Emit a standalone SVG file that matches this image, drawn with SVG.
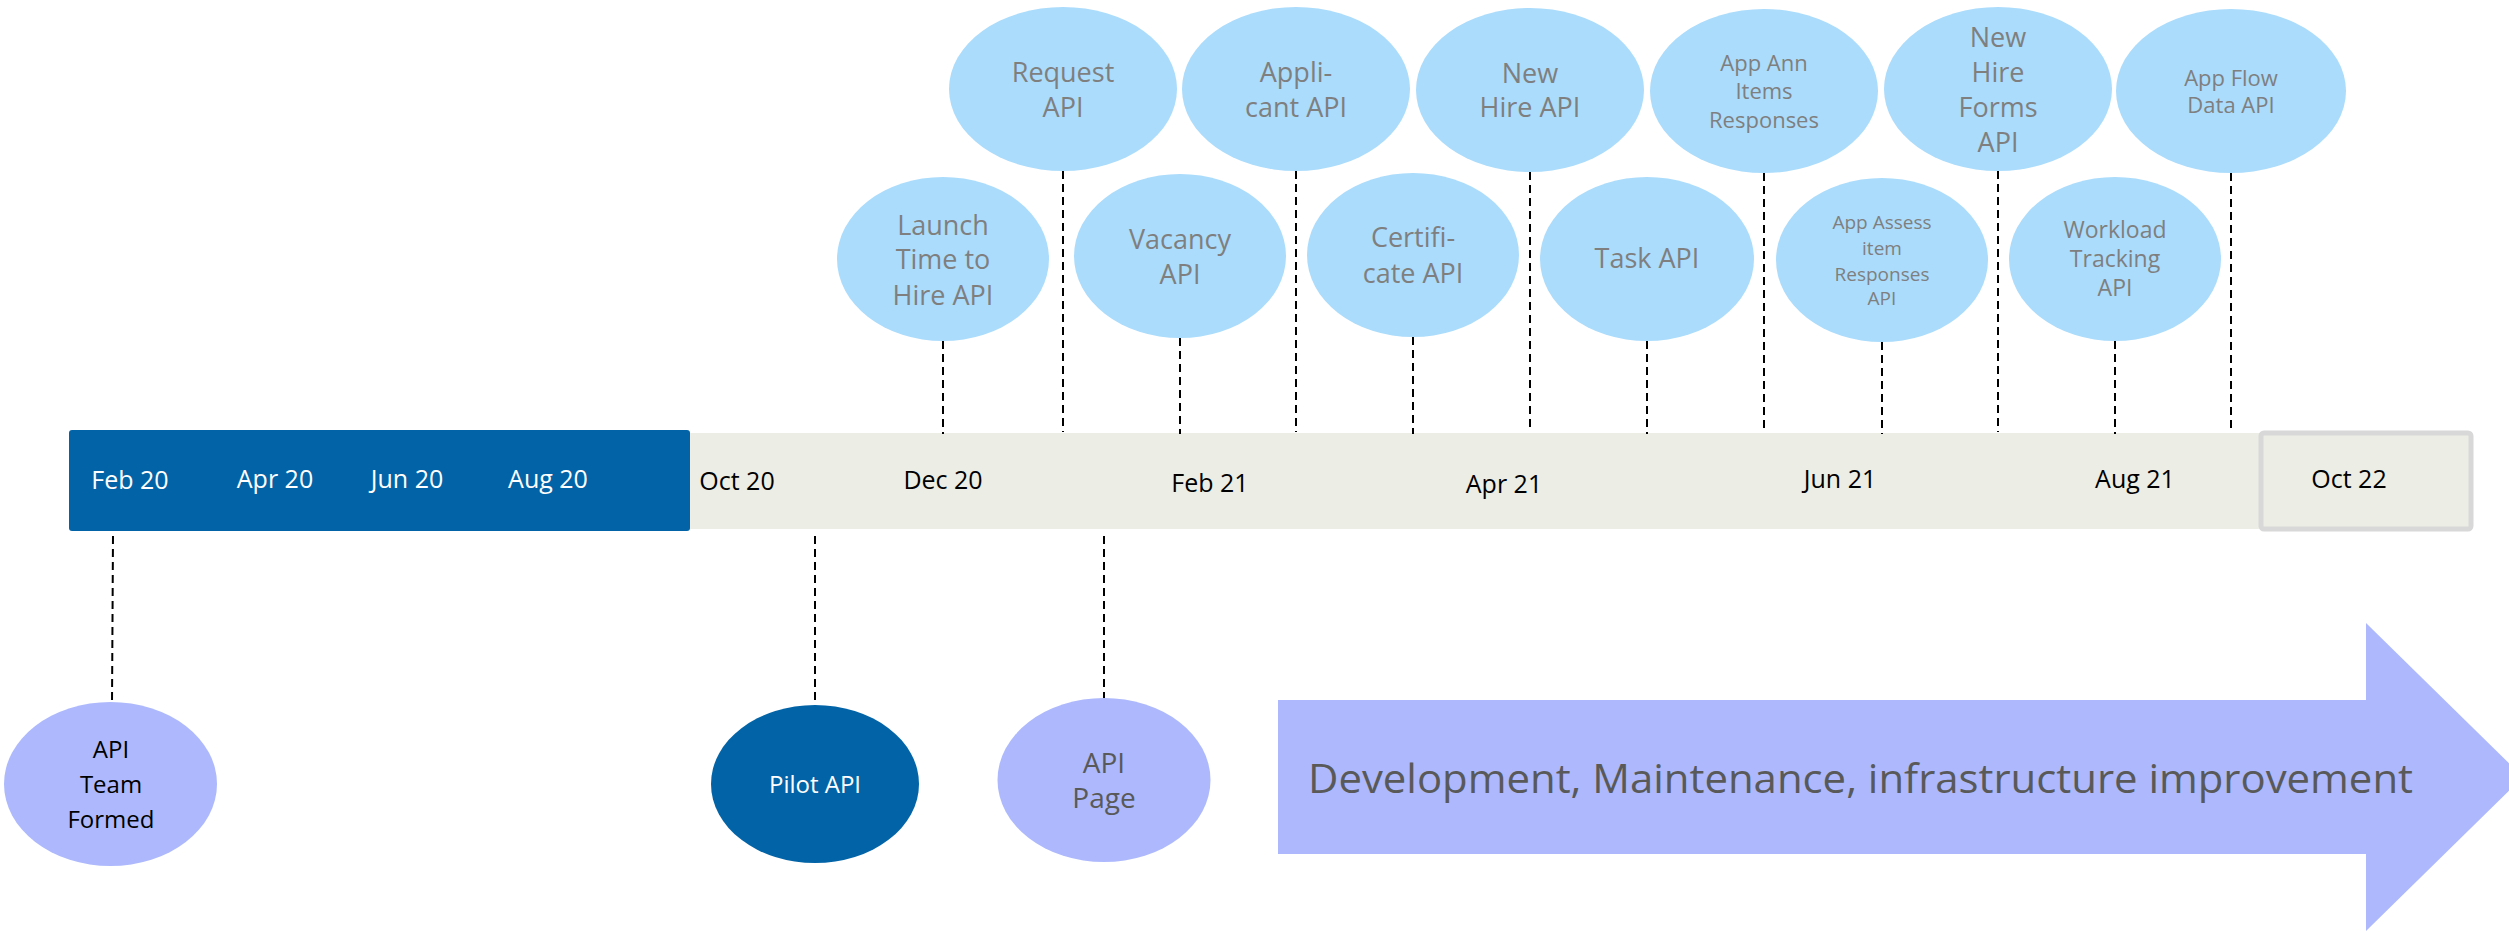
<svg xmlns="http://www.w3.org/2000/svg" width="2509" height="932" viewBox="0 0 2509 932">
<style>
text{font-family:"Open Sans","Noto Sans","DejaVu Sans",sans-serif;text-anchor:middle}
.tl{font-size:25px}
.w{fill:#ffffff}
.k{fill:#000000}
.g{fill:#7f7f7f}
.dg{fill:#595959}
.lb{fill:#abdcfc}
.pw{fill:#adb9fc}
.conn line{stroke:#000;stroke-width:2;stroke-dasharray:8 5}
.f27{font-size:27px}
.f22{font-size:22px}
.f19{font-size:19px}
.f23{font-size:23px}
.f24{font-size:24px}
.f28{font-size:28px}
</style>
<rect width="2509" height="932" fill="#ffffff"/>
<g id="timeline">
<rect x="689" y="433" width="1572" height="96" fill="#ecede5"/>
<rect x="69" y="430" width="621" height="101" rx="3" fill="#0264a7"/>
<rect x="2261" y="433" width="210" height="96" rx="3" fill="#ecede5" stroke="#d8d8d8" stroke-width="5"/>
<text class="tl w" x="130" y="489">Feb 20</text>
<text class="tl w" x="275" y="488">Apr 20</text>
<text class="tl w" x="407" y="488">Jun 20</text>
<text class="tl w" x="548" y="488">Aug 20</text>
<text class="tl k" x="737" y="490">Oct 20</text>
<text class="tl k" x="943" y="489">Dec 20</text>
<text class="tl k" x="1210" y="492">Feb 21</text>
<text class="tl k" x="1504" y="493">Apr 21</text>
<text class="tl k" x="1840" y="488">Jun 21</text>
<text class="tl k" x="2135" y="488">Aug 21</text>
<text class="tl k" x="2349" y="488">Oct 22</text>
</g>
<g class="conn" id="connectors">
<line x1="943" y1="341" x2="943" y2="434"/>
<line x1="1063" y1="171" x2="1063" y2="432"/>
<line x1="1180" y1="338" x2="1180" y2="434"/>
<line x1="1296" y1="171" x2="1296" y2="432"/>
<line x1="1413" y1="337" x2="1413" y2="434"/>
<line x1="1530" y1="172" x2="1530" y2="432"/>
<line x1="1647" y1="341" x2="1647" y2="434"/>
<line x1="1764" y1="173" x2="1764" y2="432"/>
<line x1="1882" y1="342" x2="1882" y2="434"/>
<line x1="1998" y1="171" x2="1998" y2="432"/>
<line x1="2115" y1="341" x2="2115" y2="434"/>
<line x1="2231" y1="173" x2="2231" y2="432"/>
<line x1="113" y1="536" x2="112" y2="703"/>
<line x1="815" y1="536" x2="815" y2="705"/>
<line x1="1104" y1="536" x2="1104" y2="699"/>
</g>
<g id="request-api"><ellipse class="lb" cx="1063" cy="89" rx="114" ry="82"/><text class="g f27" x="1063" y="82">Request</text><text class="g f27" x="1063" y="117">API</text></g>
<g id="applicant-api"><ellipse class="lb" cx="1296" cy="89" rx="114" ry="82"/><text class="g f27" x="1296" y="82">Appli-</text><text class="g f27" x="1296" y="117">cant API</text></g>
<g id="new-hire-api"><ellipse class="lb" cx="1530" cy="90" rx="114" ry="82"/><text class="g f27" x="1530" y="83">New</text><text class="g f27" x="1530" y="117">Hire API</text></g>
<g id="app-ann"><ellipse class="lb" cx="1764" cy="91" rx="114" ry="82"/><text class="g f22" x="1764" y="71">App Ann</text><text class="g f22" x="1764" y="99">Items</text><text class="g f22" x="1764" y="128">Responses</text></g>
<g id="new-hire-forms"><ellipse class="lb" cx="1998" cy="89" rx="114" ry="82"/><text class="g f27" x="1998" y="47">New</text><text class="g f27" x="1998" y="82">Hire</text><text class="g f27" x="1998" y="117">Forms</text><text class="g f27" x="1998" y="152">API</text></g>
<g id="app-flow"><ellipse class="lb" cx="2231" cy="91" rx="115" ry="82"/><text class="g f22" x="2231" y="86">App Flow</text><text class="g f22" x="2231" y="113">Data API</text></g>
<g id="launch"><ellipse class="lb" cx="943" cy="259" rx="106" ry="82"/><text class="g f27" x="943" y="235">Launch</text><text class="g f27" x="943" y="269">Time to</text><text class="g f27" x="943" y="305">Hire API</text></g>
<g id="vacancy"><ellipse class="lb" cx="1180" cy="256" rx="106" ry="82"/><text class="g f27" x="1180" y="249">Vacancy</text><text class="g f27" x="1180" y="284">API</text></g>
<g id="certificate"><ellipse class="lb" cx="1413" cy="255" rx="106" ry="82"/><text class="g f27" x="1413" y="247">Certifi-</text><text class="g f27" x="1413" y="283">cate API</text></g>
<g id="task"><ellipse class="lb" cx="1647" cy="259" rx="107" ry="82"/><text class="g f27" x="1647" y="268">Task API</text></g>
<g id="app-assess"><ellipse class="lb" cx="1882" cy="260" rx="106" ry="82"/><text class="g f19" x="1882" y="229">App Assess</text><text class="g f19" x="1882" y="255">item</text><text class="g f19" x="1882" y="281">Responses</text><text class="g f19" x="1882" y="305">API</text></g>
<g id="workload"><ellipse class="lb" cx="2115" cy="259" rx="106" ry="82"/><text class="g f23" x="2115" y="238">Workload</text><text class="g f23" x="2115" y="267">Tracking</text><text class="g f23" x="2115" y="296">API</text></g>
<g id="team-formed"><ellipse class="pw" cx="110.5" cy="784" rx="106.5" ry="82"/><text class="k f24" x="111" y="758">API</text><text class="k f24" x="111" y="793">Team</text><text class="k f24" x="111" y="828">Formed</text></g>
<g id="pilot-api"><ellipse fill="#0264a7" cx="815" cy="784" rx="104" ry="79"/><text class="w f24" x="815" y="793">Pilot API</text></g>
<g id="api-page"><ellipse class="pw" cx="1104" cy="780" rx="106.5" ry="82"/><text class="dg f28" x="1104" y="773">API</text><text class="dg f28" x="1104" y="808">Page</text></g>
<g id="dev-arrow"><polygon class="pw" points="1278,700 2366,700 2366,623 2523,777 2366,931 2366,854 1278,854"/><text class="dg" style="font-size:41px;text-anchor:start" x="1308" y="793" textLength="1105" lengthAdjust="spacingAndGlyphs">Development, Maintenance, infrastructure improvement</text></g>
</svg>
